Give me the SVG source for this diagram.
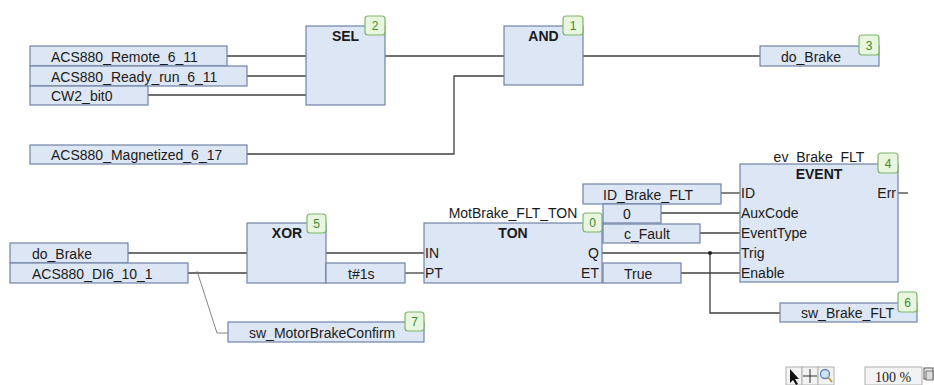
<svg xmlns="http://www.w3.org/2000/svg" width="934" height="385" viewBox="0 0 934 385">
<defs>
<style>
.bg{fill:#ffffff}
.box{fill:#dde6f4;stroke:#6f83a6;stroke-width:1.2}
.t{font-family:"Liberation Sans",Arial,sans-serif;font-size:14px;fill:#1a1a1a}
.b{font-family:"Liberation Sans",Arial,sans-serif;font-size:14px;font-weight:bold;fill:#1a1a1a;text-anchor:middle}
.pin{font-family:"Liberation Sans",Arial,sans-serif;font-size:14px;fill:#1a1a1a}
.badge{fill:#e8f5df;stroke:#7fb56a;stroke-width:1.2}
.bt{font-family:"Liberation Sans",Arial,sans-serif;font-size:12px;fill:#3d8a2e;text-anchor:middle}
.w{fill:none;stroke:#404040;stroke-width:1.3}
.thin{fill:none;stroke:#777;stroke-width:0.9}
.tb{fill:#f2f2f2;stroke:#b0b0b0;stroke-width:1}
</style>
</defs>
<rect class="bg" x="0" y="0" width="934" height="385"/>

<g id="connectors">
<polyline class="w" points="227,56 306,56"/>
<polyline class="w" points="247,76 306,76"/>
<polyline class="w" points="148,95 306,95"/>
<polyline class="w" points="385,56 504,56"/>
<polyline class="w" points="247,154 454,154 454,76 504,76"/>
<polyline class="w" points="583,56 760,56"/>
<polyline class="w" points="128,253 247,253"/>
<polyline class="w" points="188,273 247,273"/>
<polyline class="thin" points="197,271 217,333 228,333"/>
<polyline class="w" points="326,253 424,253"/>
<polyline class="w" points="405,273 424,273"/>
<polyline class="w" points="721,193 740,193"/>
<polyline class="w" points="661,213 740,213"/>
<polyline class="w" points="700,233 740,233"/>
<polyline class="w" points="602,253 740,253"/>
<polyline class="w" points="681,273 740,273"/>
<polyline class="w" points="710,253 710,313 780,313"/>
<circle cx="710" cy="253" r="2" fill="#202020"/>
<polyline class="w" points="898,193 908,193"/>
</g>

<g id="in_remote"><rect class="box" x="30" y="46" width="197" height="20"/><text class="t" x="51" y="61.5">ACS880_Remote_6_11</text></g>
<g id="in_ready"><rect class="box" x="30" y="66" width="217" height="20"/><text class="t" x="51" y="81.5">ACS880_Ready_run_6_11</text></g>
<g id="in_cw2"><rect class="box" x="30" y="86" width="118" height="19"/><text class="t" x="51" y="101">CW2_bit0</text></g>
<g id="in_magnetized"><rect class="box" x="30" y="145" width="217" height="19"/><text class="t" x="51" y="160">ACS880_Magnetized_6_17</text></g>

<g id="sel"><rect class="box" x="306" y="26" width="79" height="79"/><text class="b" x="345.5" y="41">SEL</text>
<rect class="badge" x="365" y="16" width="20" height="19" rx="3"/><text class="bt" x="375" y="30">2</text></g>

<g id="and"><rect class="box" x="504" y="26" width="79" height="59"/><text class="b" x="543.5" y="41">AND</text>
<rect class="badge" x="563" y="16" width="20" height="19" rx="3"/><text class="bt" x="573" y="30">1</text></g>

<g id="out_do_brake"><rect class="box" x="760" y="46" width="119" height="20"/><text class="t" x="781" y="61.5">do_Brake</text>
<rect class="badge" x="859" y="35" width="20" height="20" rx="3"/><text class="bt" x="869" y="49.5">3</text></g>

<g id="in_do_brake"><rect class="box" x="10" y="243" width="118" height="20"/><text class="t" x="32" y="258.5">do_Brake</text></g>
<g id="in_di6"><rect class="box" x="10" y="263" width="178" height="20"/><text class="t" x="32" y="278.5">ACS880_DI6_10_1</text></g>

<g id="xor"><rect class="box" x="247" y="223" width="79" height="60"/><text class="b" x="287" y="238">XOR</text>
<rect class="badge" x="307" y="214" width="19" height="19" rx="3"/><text class="bt" x="316.5" y="228">5</text></g>

<g id="t1s"><rect class="box" x="326" y="263" width="79" height="20"/><text class="t" x="348" y="278.5">t#1s</text></g>

<g id="ton"><text class="t" x="513" y="218" text-anchor="middle">MotBrake_FLT_TON</text>
<rect class="box" x="424" y="223" width="178" height="60"/><text class="b" x="513" y="238">TON</text>
<text class="pin" x="425" y="258">IN</text><text class="pin" x="425" y="278">PT</text>
<text class="pin" x="599" y="258" text-anchor="end">Q</text><text class="pin" x="599" y="278" text-anchor="end">ET</text>
<rect class="badge" x="583" y="213" width="19" height="19" rx="3"/><text class="bt" x="592.5" y="227">0</text></g>

<g id="out_motorbrake"><rect class="box" x="228" y="322" width="196" height="20"/><text class="t" x="249" y="337.5">sw_MotorBrakeConfirm</text>
<rect class="badge" x="405" y="312" width="19" height="19" rx="3"/><text class="bt" x="414.5" y="326">7</text></g>

<g id="in_id"><rect class="box" x="583" y="184" width="138" height="20"/><text class="t" x="603" y="199.5">ID_Brake_FLT</text></g>
<g id="in_zero"><rect class="box" x="603" y="204" width="58" height="19"/><text class="t" x="623" y="219">0</text></g>
<g id="in_fault"><rect class="box" x="603" y="224" width="97" height="19"/><text class="t" x="624" y="239">c_Fault</text></g>
<g id="in_true"><rect class="box" x="603" y="263" width="78" height="20"/><text class="t" x="624" y="278.5">True</text></g>

<g id="event"><text class="t" x="819" y="162" text-anchor="middle">ev_Brake_FLT</text>
<rect class="box" x="740" y="164" width="158" height="118"/><text class="b" x="819" y="179">EVENT</text>
<text class="pin" x="741" y="198">ID</text>
<text class="pin" x="741" y="218">AuxCode</text>
<text class="pin" x="741" y="238">EventType</text>
<text class="pin" x="741" y="258">Trig</text>
<text class="pin" x="741" y="278">Enable</text>
<text class="pin" x="896" y="198" text-anchor="end">Err</text>
<rect class="badge" x="878" y="153" width="20" height="20" rx="3"/><text class="bt" x="888" y="167.5">4</text></g>

<g id="out_sw_brake"><rect class="box" x="780" y="303" width="137" height="19"/><text class="t" x="801" y="318">sw_Brake_FLT</text>
<rect class="badge" x="898" y="292" width="19" height="20" rx="3"/><text class="bt" x="907.5" y="306.5">6</text></g>

<g id="toolbar">
<rect class="tb" x="786" y="367" width="16" height="18"/>
<rect class="tb" x="802" y="367" width="16" height="18"/>
<rect class="tb" x="818" y="367" width="16" height="18"/>
<polygon points="790,369 790,383 793,380 796,385 798,384 795,379 799,379" fill="#111"/>
<path d="M810,369 V383 M803,376 H817" stroke="#333" stroke-width="1" fill="none"/>
<circle cx="825" cy="374" r="4.5" fill="#cfe3f7" stroke="#5a86b8" stroke-width="1.3"/>
<line x1="828" y1="377" x2="832" y2="382" stroke="#c89a3a" stroke-width="2"/>
<rect class="tb" x="865" y="367" width="57" height="18"/>
<text x="893" y="382" text-anchor="middle" style="font-family:'Liberation Serif','Times New Roman',serif;font-size:14px;fill:#222">100 %</text>
<rect x="924" y="368" width="9" height="11" fill="#eee" stroke="#555" stroke-width="1"/>
<rect x="926" y="371" width="7" height="9" fill="#ddd" stroke="#555" stroke-width="0.8"/>
</g>
</svg>
